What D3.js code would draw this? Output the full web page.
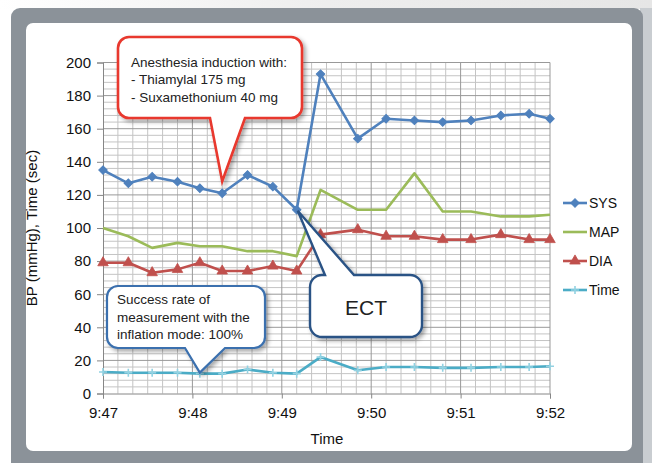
<!DOCTYPE html>
<html><head><meta charset="utf-8">
<script src="https://cdn.jsdelivr.net/npm/d3@7/dist/d3.min.js"></script>
<style>
body{margin:0;background:#fff}
svg{display:block}
text{font-family:"Liberation Sans",Arial,Helvetica,sans-serif}
</style>
</head><body>
<svg id="chart" width="652" height="463"></svg>
<script>
// ---- data ----
const times = ["9:47:00","9:47:17","9:47:33","9:47:50","9:48:05","9:48:20","9:48:37","9:48:54","9:49:10",
               "9:49:26","9:49:51","9:50:10","9:50:29","9:50:48","9:51:07","9:51:27","9:51:46","9:52:00"];
const sysValues  = [135,127,131,128,124,121,132,125,111,193,154,166,165,164,165,168,169,166];
const mapValues  = [100,95,88,91,89,89,86,86,83,123,111,111,133,110,110,107,107,108];
const diaValues  = [79,79,73,75,79,74,74,77,74,96,99,95,95,93,93,96,93,93];
const timeValues = [13,12.5,12.5,12.5,12,12,14.5,12.5,12,22,14,16,16,15.5,15.5,16,16,16.5];
const seriesNames = ["SYS","MAP","DIA","Time"];
const xTickLabels = ["9:47","9:48","9:49","9:50","9:51","9:52"];
const yTickValues = [0,20,40,60,80,100,120,140,160,180,200];
const redNoteLines = ["Anesthesia induction with:","- Thiamylal 175 mg","- Suxamethonium 40 mg"];
const blueNoteLines = ["Success rate of","measurement with the","inflation mode: 100%"];
const ectLabel = "ECT";

// ---- helpers ----
const toSec = t => { const [h,m,s] = t.split(":").map(Number); return (h*3600+m*60+s) - (9*3600+47*60); };
const xs = times.map(toSec);

const svg = d3.select("#chart");
const defs = svg.append("defs");
const f = defs.append("filter").attr("id","shadow").attr("x","-20%").attr("y","-20%").attr("width","150%").attr("height","150%");
f.append("feDropShadow").attr("dx",2.5).attr("dy",2.5).attr("stdDeviation",2).attr("flood-color","#000").attr("flood-opacity",0.35);
const g1 = defs.append("linearGradient").attr("id","topband").attr("x1","0").attr("x2","1");
g1.append("stop").attr("offset","0").attr("stop-color","#ffffff");
g1.append("stop").attr("offset","0.5").attr("stop-color","#eeeeee");
g1.append("stop").attr("offset","1").attr("stop-color","#e6e6e6");

// ---- frame ----
svg.append("rect").attr("width",652).attr("height",463).attr("fill","#fff");
svg.append("rect").attr("x",0).attr("y",0).attr("width",652).attr("height",9).attr("fill","url(#topband)");
svg.append("rect").attr("x",640).attr("y",8).attr("width",12).attr("height",455).attr("fill","#c9cdd1");
svg.append("rect").attr("x",11).attr("y",8).attr("width",632).attr("height",470).attr("rx",9).attr("fill","#8b9299");
svg.append("rect").attr("x",26).attr("y",23).attr("width",606).attr("height",428).attr("rx",7).attr("fill","#fff");

// ---- scales ----
const x = d3.scaleLinear().domain([0,300]).range([103,550]);
const y = d3.scaleLinear().domain([0,200]).range([393.5,62.5]);

// ---- grid ----
const grid = svg.append("g");
grid.selectAll(".vmin").data(d3.range(0,301,10).filter(d=>d%60)).join("line")
  .attr("x1",d=>x(d)).attr("x2",d=>x(d)).attr("y1",y(200)).attr("y2",y(0))
  .attr("stroke","#c4c4c4").attr("stroke-width",1);
grid.selectAll(".hmin").data(d3.range(0,201,4).filter(d=>d%20)).join("line")
  .attr("x1",x(0)).attr("x2",x(300)).attr("y1",d=>y(d)).attr("y2",d=>y(d))
  .attr("stroke","#c4c4c4").attr("stroke-width",1);
grid.selectAll(".vmaj").data(d3.range(60,301,60)).join("line")
  .attr("x1",d=>x(d)).attr("x2",d=>x(d)).attr("y1",y(200)).attr("y2",y(0))
  .attr("stroke","#999999").attr("stroke-width",1);
grid.selectAll(".hmaj").data(yTickValues.filter(d=>d>0)).join("line")
  .attr("x1",x(0)).attr("x2",x(300)).attr("y1",d=>y(d)).attr("y2",d=>y(d))
  .attr("stroke","#999999").attr("stroke-width",1);

// ---- axes ----
const yAxis = svg.append("g").attr("transform",`translate(${x(0)},0)`)
  .call(d3.axisLeft(y).tickValues(yTickValues).tickSize(6).tickPadding(6));
const xAxis = svg.append("g").attr("transform",`translate(0,${y(0)})`)
  .call(d3.axisBottom(x).tickValues(d3.range(0,301,60)).tickFormat((d,i)=>xTickLabels[i]).tickSize(5).tickPadding(9));
[yAxis,xAxis].forEach(a=>{
  a.selectAll("path,line").attr("stroke","#868686");
  a.selectAll("text").attr("font-size",15).attr("fill","#111")
   .style("font-family",'"Liberation Sans",Arial,sans-serif');
});

svg.append("text").attr("x",327).attr("y",444).attr("text-anchor","middle")
  .attr("font-size",15).attr("fill","#111").text("Time");
svg.append("text").attr("transform","translate(37,228) rotate(-90)").attr("text-anchor","middle")
  .attr("font-size",15).attr("fill","#111").text("BP (mmHg), Time (sec)");

// ---- series ----
const series = [
  {name:seriesNames[0], values:sysValues,  color:"#4f81bd", marker:"diamond"},
  {name:seriesNames[1], values:mapValues,  color:"#9bbb59", marker:"none"},
  {name:seriesNames[2], values:diaValues,  color:"#c0504d", marker:"triangle"},
  {name:seriesNames[3], values:timeValues, color:"#4bacc6", marker:"plus"}
];
const line = d3.line().x(d=>x(d[0])).y(d=>y(d[1]));

function drawMarker(sel, type, color){
  if(type==="diamond"){
    sel.append("path").attr("d",d3.symbol(d3.symbolSquare,36)())
      .attr("fill",color).attr("stroke",color).attr("stroke-width",1).attr("transform","rotate(45)");
  } else if(type==="triangle"){
    sel.append("path").attr("d",d3.symbol(d3.symbolTriangle,48)()).attr("fill",color).attr("stroke",color).attr("stroke-width",0.8);
  } else if(type==="plus"){
    sel.append("path").attr("d","M-4,0H4M0,-4V4").attr("stroke","#93d2e2").attr("stroke-width",1.6).attr("fill","none");
  }
}

const plot = svg.append("g");
series.forEach(s=>{
  const pts = xs.map((t,i)=>[t,s.values[i]]);
  plot.append("path").datum(pts).attr("d",line).attr("fill","none")
    .attr("stroke",s.color).attr("stroke-width",2.6).attr("stroke-linejoin","round");
  if(s.marker!=="none"){
    plot.selectAll(null).data(pts).join("g")
      .attr("transform",d=>`translate(${x(d[0])},${y(d[1])})`)
      .each(function(){ drawMarker(d3.select(this), s.marker, s.color); });
  }
});

// ---- legend ----
const legend = svg.append("g");
series.forEach((s,i)=>{
  const ly = 203 + i*29;
  legend.append("line").attr("x1",563).attr("x2",587).attr("y1",ly).attr("y2",ly)
    .attr("stroke",s.color).attr("stroke-width",2.6);
  const m = legend.append("g").attr("transform",`translate(575,${ly})`);
  drawMarker(m, s.marker, s.color);
  legend.append("text").attr("x",589).attr("y",ly).attr("dy","0.36em")
    .attr("font-size",14).attr("fill","#111").text(s.name);
});

// ---- callouts ----
function calloutPath(x0,y0,x1,y1,r,side,a,b,tx,ty){
  let p = `M${x0+r},${y0}`;
  if(side==="top") p += `H${a}L${tx},${ty}L${b},${y0}`;
  p += `H${x1-r}A${r},${r} 0 0 1 ${x1},${y0+r}V${y1-r}A${r},${r} 0 0 1 ${x1-r},${y1}`;
  if(side==="bottom") p += `H${b}L${tx},${ty}L${a},${y1}`;
  p += `H${x0+r}A${r},${r} 0 0 1 ${x0},${y1-r}V${y0+r}A${r},${r} 0 0 1 ${x0+r},${y0}Z`;
  return p;
}
const notes = svg.append("g");
const redTipX = x(xs[5]), redTipY = y(sysValues[5]) - 12;
notes.append("path").attr("d",calloutPath(118,37,302,118,11,"bottom",210,245,redTipX,redTipY))
  .attr("fill","#fff").attr("stroke","#e8382d").attr("stroke-width",2.6).attr("filter","url(#shadow)");
redNoteLines.forEach((t,i)=>notes.append("text").attr("x",131).attr("y",62+i*17.5).attr("dy","0.36em")
  .attr("font-size",13.5).attr("fill","#222").text(t));

const bTipX = x(xs[4]), bTipY = y(timeValues[4]) - 1;
notes.append("path").attr("d",calloutPath(107,286,265,348,11,"bottom",185,225,bTipX,bTipY))
  .attr("fill","#fff").attr("stroke","#3a6fae").attr("stroke-width",2.2).attr("filter","url(#shadow)");
blueNoteLines.forEach((t,i)=>notes.append("text").attr("x",117).attr("y",299.5+i*17.5).attr("dy","0.36em")
  .attr("font-size",13.5).attr("fill","#222").text(t));

const eTipX = x(xs[8]) + 1, eTipY = y(sysValues[8]) + 1;
notes.append("path").attr("d",calloutPath(310,275,422,337,12,"top",325,354,eTipX,eTipY))
  .attr("fill","#fff").attr("stroke","#2a5285").attr("stroke-width",2.4).attr("filter","url(#shadow)");
notes.append("text").attr("x",366).attr("y",307).attr("dy","0.36em").attr("text-anchor","middle")
  .attr("font-size",21).attr("fill","#222").text(ectLabel);
</script>
</body></html>
